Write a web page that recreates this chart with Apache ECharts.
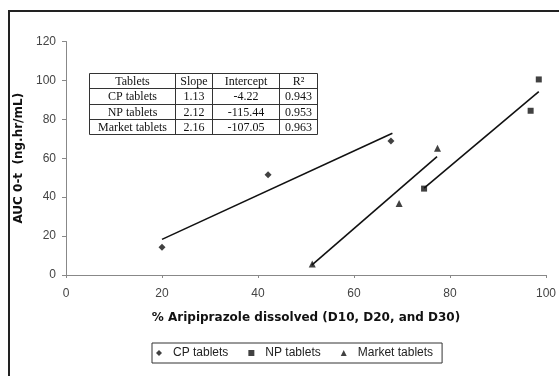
<!DOCTYPE html>
<html>
<head>
<meta charset="utf-8">
<script src="https://cdn.jsdelivr.net/npm/echarts@6/dist/echarts.min.js"></script>
<style>html,body{margin:0;padding:0;background:#fff}#c{width:559px;height:376px}</style>
</head>
<body>
<div id="c"></div>
<script>
// Data
var seriesNames = ['CP tablets', 'NP tablets', 'Market tablets'];
var cpPoints = [[20, 14.2], [42.1, 51.5], [67.7, 68.9]];
var npPoints = [[74.6, 44.4], [96.8, 84.4], [98.5, 100.5]];
var marketPoints = [[51.3, 5.6], [69.4, 36.8], [77.4, 65.1]];
// trend-line end points
var cpTrend = [[20, 18.3], [68, 72.8]];
var npTrend = [[74.6, 44.6], [98.5, 94.2]];
var marketTrend = [[51.2, 5.1], [77.3, 60.8]];
// table
var tableHeader = ['Tablets', 'Slope', 'Intercept', 'R\u00b2'];
var tableRows = [
  ['CP tablets', '1.13', '-4.22', '0.943'],
  ['NP tablets', '2.12', '-115.44', '0.953'],
  ['Market tablets', '2.16', '-107.05', '0.963']
];
var xTicks = [0, 20, 40, 60, 80, 100];
var yTicks = [0, 20, 40, 60, 80, 100, 120];

var chart = echarts.init(document.getElementById('c'), null, {renderer: 'canvas'});

// table graphics
var colX = [89.5, 175.5, 212.5, 279.5, 317.5];
var rowY = [73.5, 88.5, 104.5, 119.5, 134.5];
var g = [];
g.push({type: 'rect', shape: {x: 9, y: 11, width: 700, height: 500}, style: {fill: null, stroke: '#222', lineWidth: 2}, silent: true});
g.push({type: 'rect', shape: {x: colX[0], y: rowY[0], width: colX[4] - colX[0], height: rowY[4] - rowY[0]}, style: {fill: '#fff', stroke: '#333', lineWidth: 1}, z: 10});
for (var i = 1; i < 4; i++) {
  g.push({type: 'line', shape: {x1: colX[i], y1: rowY[0], x2: colX[i], y2: rowY[4]}, style: {stroke: '#333', lineWidth: 1}, z: 11});
  g.push({type: 'line', shape: {x1: colX[0], y1: rowY[i], x2: colX[4], y2: rowY[i]}, style: {stroke: '#333', lineWidth: 1}, z: 11});
}
var allRows = [tableHeader].concat(tableRows);
for (var r = 0; r < allRows.length; r++) {
  for (var c = 0; c < 4; c++) {
    g.push({type: 'text', x: (colX[c] + colX[c + 1]) / 2, y: (rowY[r] + rowY[r + 1]) / 2 + 0.5, z: 12,
      style: {text: allRows[r][c], fill: '#111', font: '12px "Liberation Serif"', textAlign: 'center', textVerticalAlign: 'middle'}});
  }
}

var trendStyle = {color: '#111', width: 1.6};
chart.setOption({
  animation: false,
  backgroundColor: '#fff',
  graphic: g,
  grid: {left: 66, right: 5, top: 41.5, bottom: 101, containLabel: false},
  legend: {
    data: seriesNames,
    left: 152, top: 343,
    padding: [4, 9, 4, 4],
    itemGap: 20,
    itemWidth: 6, itemHeight: 6,
    borderColor: '#333', borderWidth: 1,
    textStyle: {fontFamily: 'Liberation Sans', fontSize: 12, color: '#222', padding: [0, 0, 0, 6]}
  },
  xAxis: {
    type: 'value', min: 0, max: 100, interval: 20,
    name: '% Aripiprazole dissolved (D10, D20, and D30)',
    nameLocation: 'middle', nameGap: 37,
    nameTextStyle: {fontFamily: 'DejaVu Sans', fontWeight: 'bold', fontSize: 12, color: '#111'},
    axisLine: {show: true, lineStyle: {color: '#888', width: 1}},
    axisTick: {show: true, inside: false, length: 3, lineStyle: {color: '#888'}},
    axisLabel: {fontFamily: 'Liberation Sans', fontSize: 12, color: '#444', margin: 13},
    splitLine: {show: false}
  },
  yAxis: {
    type: 'value', min: 0, max: 120, interval: 20,
    name: 'AUC 0-t  (ng.hr/mL)',
    nameLocation: 'middle', nameGap: 33, nameRotate: 90,
    nameTextStyle: {fontFamily: 'DejaVu Sans', fontWeight: 'bold', fontSize: 12, color: '#111'},
    axisLine: {show: true, lineStyle: {color: '#888', width: 1}},
    axisTick: {show: true, inside: false, length: 4, lineStyle: {color: '#888'}},
    axisLabel: {fontFamily: 'Liberation Sans', fontSize: 12, color: '#444', margin: 10},
    splitLine: {show: false}
  },
  series: [
    {name: seriesNames[0], type: 'scatter', symbol: 'diamond', symbolSize: 7, data: cpPoints, itemStyle: {color: '#111'}, z: 5},
    {name: seriesNames[1], type: 'scatter', symbol: 'rect', symbolSize: 6, data: npPoints, itemStyle: {color: '#111'}, z: 5},
    {name: seriesNames[2], type: 'scatter', symbol: 'triangle', symbolSize: 7, data: marketPoints, itemStyle: {color: '#111'}, z: 5},
    {name: 'cpTrend', type: 'line', data: cpTrend, showSymbol: false, symbol: 'none', lineStyle: trendStyle, z: 4},
    {name: 'npTrend', type: 'line', data: npTrend, showSymbol: false, symbol: 'none', lineStyle: trendStyle, z: 4},
    {name: 'marketTrend', type: 'line', data: marketTrend, showSymbol: false, symbol: 'none', lineStyle: trendStyle, z: 4}
  ]
});
</script>
</body>
</html>
